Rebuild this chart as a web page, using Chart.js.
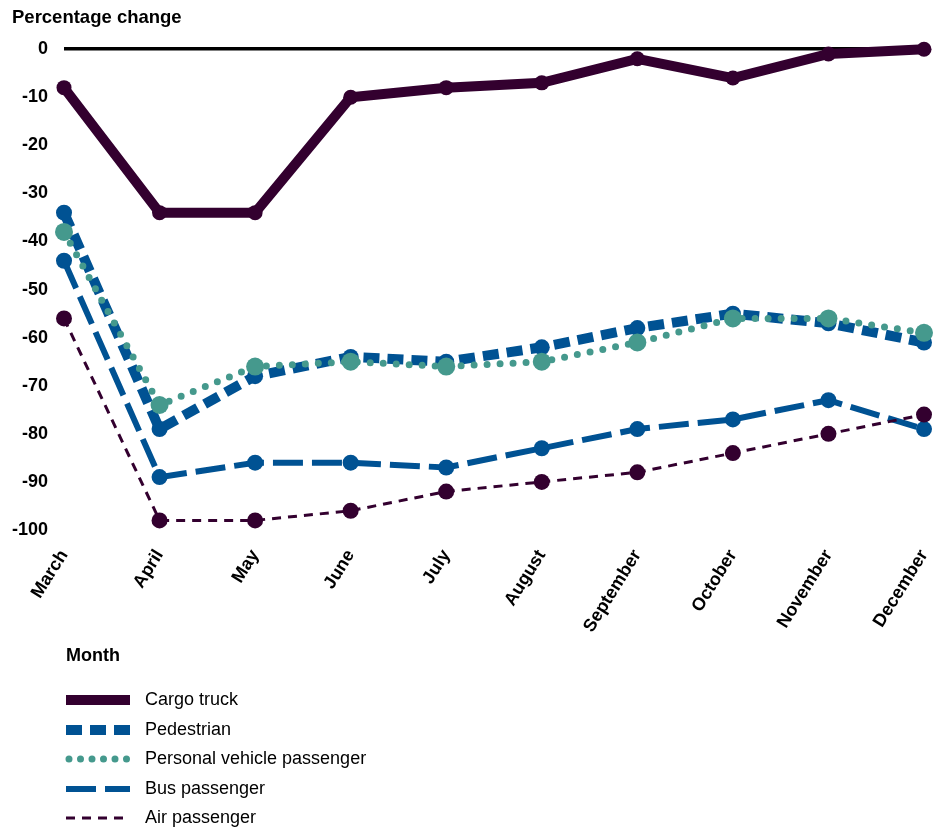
<!DOCTYPE html>
<html>
<head>
<meta charset="utf-8">
<script src="https://cdn.jsdelivr.net/npm/chart.js@4/dist/chart.umd.min.js"></script>
<style>
  body { margin: 0; background: #fff; }
  #wrapper { width: 941px; height: 829px; position: relative; }
</style>
</head>
<body>
<div id="wrapper"><canvas id="myChart"></canvas></div>
<script>
// data
const months = ["March", "April", "May", "June", "July", "August", "September", "October", "November", "December"];
const cargoTruck = [-8, -34, -34, -10, -8, -7, -2, -6, -1, 0];
const pedestrian = [-34, -79, -68, -64, -65, -62, -58, -55, -57, -61];
const personalVehicle = [-38, -74, -66, -65, -66, -65, -61, -56, -56, -59];
const busPassenger = [-44, -89, -86, -86, -87, -83, -79, -77, -73, -79];
const airPassenger = [-56, -98, -98, -96, -92, -90, -88, -84, -80, -76];

const purple = "#33002f";
const blue = "#005293";
const teal = "#45998d";
const FONT = "'Liberation Sans', Arial, sans-serif";

function series(label, values, color, width, dash, radius, order, cap) {
  return {
    label: label,
    data: values,
    borderColor: color,
    backgroundColor: color,
    borderWidth: width,
    borderDash: dash,
    borderCapStyle: cap || "butt",
    pointRadius: radius,
    pointBackgroundColor: color,
    pointBorderWidth: 0,
    pointHoverRadius: radius,
    tension: 0,
    fill: false,
    clip: false,
    order: order,
  };
}

// later series are painted on top, like the original
const data = {
  labels: months,
  datasets: [
    series("Cargo truck", cargoTruck, purple, 10, [], 7.5, 5),
    series("Pedestrian", pedestrian, blue, 10, [16, 8], 8, 4),
    series("Personal vehicle passenger", personalVehicle, teal, 7, [0, 13], 9, 3, "round"),
    series("Bus passenger", busPassenger, blue, 6, [30, 9], 8, 2),
    series("Air passenger", airPassenger, purple, 3, [9, 7], 8, 1),
  ],
};

// legend drawn as a vertical list under the axis
const listLegend = {
  id: "listLegend",
  afterDraw(chart) {
    const c = chart.ctx;
    c.save();
    c.fillStyle = "#000";
    c.textBaseline = "middle";
    c.textAlign = "left";
    c.font = "bold 18px " + FONT;
    c.fillText("Month", 66, 656);
    c.font = "18px " + FONT;
    const rows = [700, 730, 759, 789, 818];
    chart.data.datasets.forEach((ds, i) => {
      const y = rows[i];
      c.save();
      c.strokeStyle = ds.borderColor;
      c.lineWidth = ds.borderWidth;
      c.lineCap = ds.borderCapStyle;
      c.setLineDash(ds.borderDash);
      c.beginPath();
      if (ds.borderCapStyle == "round") {
        c.setLineDash([0, 11.5]);
        c.moveTo(69, y);
        c.lineTo(128, y);
      } else {
        c.moveTo(66, y);
        c.lineTo(130, y);
      }
      c.stroke();
      c.restore();
      c.fillStyle = "#000";
      c.fillText(ds.label, 145, y);
    });
    c.restore();
  },
};

const options = {
  responsive: true,
  maintainAspectRatio: false,
  animation: false,
  layout: {
    padding: { left: 12, right: 17, top: 0, bottom: 0 },
  },
  plugins: {
    legend: { display: false },
    tooltip: { enabled: false },
    title: {
      display: true,
      text: "Percentage change",
      align: "start",
      color: "#000",
      font: { family: FONT, size: 18.5, weight: "bold" },
      padding: { top: 7, bottom: 20 },
    },
  },
  scales: {
    y: {
      min: -100,
      max: 0,
      border: { display: false },
      grid: {
        drawTicks: false,
        color: (ctx) => (ctx.tick && ctx.tick.value === 0 ? "#000" : "rgba(0,0,0,0)"),
        lineWidth: 3.5,
      },
      ticks: {
        stepSize: 10,
        padding: 16,
        color: "#000",
        font: { family: FONT, size: 18, weight: "bold" },
      },
      afterFit: (scale) => {
        scale.width = 52;
      },
    },
    x: {
      offset: false,
      border: { display: false },
      grid: { display: false },
      ticks: {
        minRotation: 58,
        maxRotation: 58,
        padding: 8,
        color: "#000",
        font: { family: FONT, size: 18, weight: "bold" },
      },
      afterFit: (scale) => {
        scale.height = 299;
        scale.paddingLeft = 0;
        scale.paddingRight = 0;
      },
    },
  },
};

const ctx = document.getElementById("myChart").getContext("2d");
let myChart = new Chart(ctx, {
  type: "line",
  data,
  options,
  plugins: [listLegend],
});
</script>
</body>
</html>
